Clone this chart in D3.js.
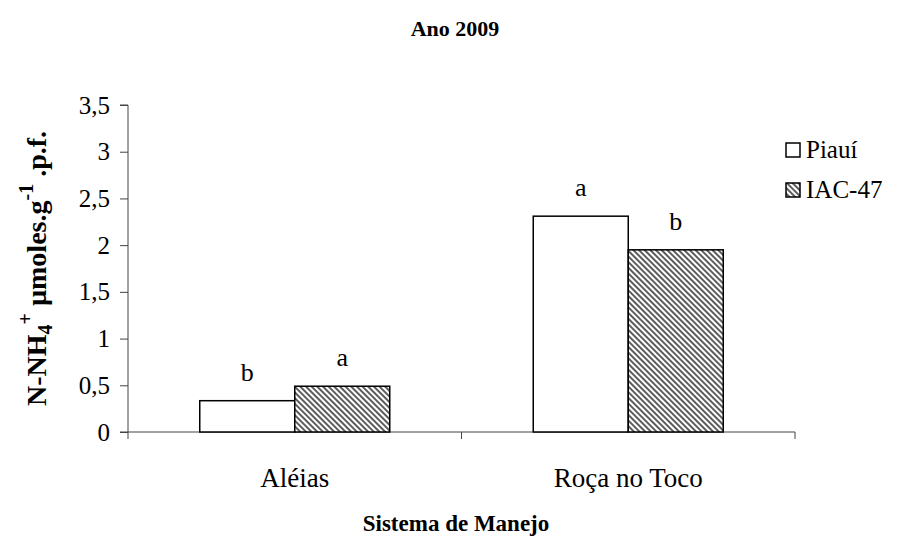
<!DOCTYPE html>
<html><head><meta charset="utf-8">
<script src="https://cdn.jsdelivr.net/npm/d3@7"></script>
<style>body{margin:0;background:#fff}svg{display:block}svg text{font-family:"Liberation Serif","Times New Roman",serif !important}</style>
</head><body><svg id="c" width="909" height="544"></svg>
<script>
const categories = ["Aléias", "Roça no Toco"];
const series = ["Piauí", "IAC-47"];
const piaui = [0.335, 2.31];
const iac47 = [0.49, 1.95];
const letters = [["b", "a"], ["a", "b"]];
const yTicks = [0, 0.5, 1, 1.5, 2, 2.5, 3, 3.5];
const yTickLabels = ["0", "0,5", "1", "1,5", "2", "2,5", "3", "3,5"];

const FONT = "Liberation Serif";
const FS = 25;
const svg = d3.select("#c").attr("font-family", FONT);
const defs = svg.append("defs");
const pat = defs.append("pattern").attr("id","hatch").attr("patternUnits","userSpaceOnUse")
  .attr("width",4).attr("height",4).attr("patternTransform","rotate(45)");
pat.append("rect").attr("width",4).attr("height",4).attr("fill","#fff");
pat.append("line").attr("x1",0).attr("y1",1).attr("x2",4).attr("y2",1).attr("stroke","#333").attr("stroke-width",1.6);

const mLeft = 128, mRight = 795, mTop = 105, mBottom = 432;
const x = d3.scaleBand().domain(categories).range([mLeft, mRight]);
const inner = d3.scaleBand().domain(series).range([0, 190]);
const y = d3.scaleLinear().domain([0, 3.5]).range([mBottom, mTop]);

// y axis
const ya = svg.append("g").attr("transform",`translate(${mLeft},0)`)
  .call(d3.axisLeft(y).tickValues(yTicks).tickFormat((d,i)=>yTickLabels[i]).tickSize(8).tickPadding(10));
ya.attr("font-family", FONT).attr("font-size", FS);
ya.select(".domain").attr("stroke","#444").attr("d",`M-8,${mTop}H0V${mBottom}H-8`);
ya.selectAll(".tick line").attr("stroke","#444");
ya.selectAll("text").attr("fill","#000");

// x axis with ticks at boundaries
const xa = svg.append("g").attr("transform",`translate(0,${mBottom})`);
xa.append("line").attr("x1",mLeft).attr("x2",mRight).attr("stroke","#444");
const bounds = [mLeft, ...categories.map(c=>x(c)+x.bandwidth())];
xa.selectAll(".bt").data(bounds).join("line").attr("x1",d=>d).attr("x2",d=>d).attr("y1",0).attr("y2",7).attr("stroke","#444");
xa.selectAll(".cl").data(categories).join("text").attr("x",d=>x(d)+x.bandwidth()/2).attr("y",55)
  .attr("text-anchor","middle").attr("font-size",27).text(d=>d);

const data = [];
categories.forEach((c,i)=>{
  data.push({c, s:"Piauí", v:piaui[i], l:letters[i][0]});
  data.push({c, s:"IAC-47", v:iac47[i], l:letters[i][1]});
});
const gx = c => x(c) + (x.bandwidth()-190)/2;
svg.selectAll(".bar").data(data).join("rect")
  .attr("x",d=>gx(d.c)+inner(d.s)).attr("width",inner.bandwidth())
  .attr("y",d=>y(d.v)).attr("height",d=>mBottom-y(d.v))
  .attr("fill",d=>d.s==="Piauí"?"#fff":"url(#hatch)").attr("stroke","#000").attr("stroke-width",1.5);
svg.selectAll(".lt").data(data).join("text")
  .attr("x",d=>gx(d.c)+inner(d.s)+inner.bandwidth()/2).attr("y",d=>y(d.v)-20)
  .attr("text-anchor","middle").attr("font-size",26).text(d=>d.l);

// title
svg.append("text").attr("x",455).attr("y",36).attr("text-anchor","middle").attr("font-size",22).attr("font-weight","bold").text("Ano 2009");
svg.append("text").attr("x",456).attr("y",531).attr("text-anchor","middle").attr("font-size",23).attr("font-weight","bold").text("Sistema de Manejo");

// y title
const yt = svg.append("text").attr("transform",`translate(46,${(mTop+mBottom)/2}) rotate(-90)`).attr("text-anchor","middle")
  .attr("font-size",28).attr("font-weight","bold");
yt.append("tspan").text("N-NH");
yt.append("tspan").attr("font-size",20).attr("dy",6).text("4");
yt.append("tspan").attr("font-size",20).attr("dy",-20).text("+");
yt.append("tspan").attr("dy",14).text(" µmoles.g");
yt.append("tspan").attr("font-size",20).attr("dy",-13).text("-1");
yt.append("tspan").attr("dy",13).text(" .p.f.");

// legend
const lg = svg.append("g");
series.forEach((s,i)=>{
  const yy = 150 + i*40;
  lg.append("rect").attr("x",786).attr("y",yy-7).attr("width",14).attr("height",14)
    .attr("fill",i===0?"#fff":"url(#hatch)").attr("stroke","#000").attr("stroke-width",1.5);
  lg.append("text").attr("x",806).attr("y",yy+8).attr("font-size",FS).text(s);
});
</script></body></html>
